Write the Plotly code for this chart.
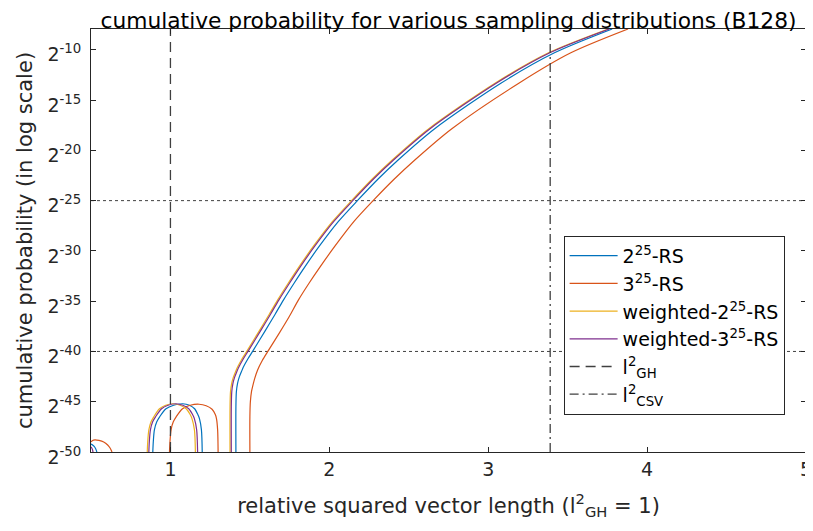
import plotly.graph_objects as go

# ---- data (log2 of cumulative probability vs relative squared length) ----
# 2^25-RS (blue)
blue_left_x = [0.5, 0.51, 0.52, 0.53, 0.537]
blue_left_y = [-49.2, -49.3, -49.45, -49.7, -50]
blue_arc_x = [0.889, 0.892, 0.899, 0.914, 0.932, 0.972, 1.02, 1.077, 1.12, 1.152, 1.173, 1.183, 1.195, 1.200]
blue_arc_y = [-50, -49.0, -47.8, -47.0, -46.5, -45.7, -45.35, -45.2, -45.35, -45.7, -46.3, -46.7, -47.8, -50]
blue_x = [1.412, 1.412, 1.415, 1.422, 1.432, 1.447, 1.459, 1.487, 1.522, 1.596, 1.658, 1.711, 1.777, 1.847,
          1.937, 2.056, 2.181, 2.307, 2.433, 2.663, 3.082, 3.417, 3.78]
blue_y = [-50, -45.5, -44.0, -43.2, -42.6, -42.0, -41.55, -40.75, -39.87, -37.95, -36.32, -34.89, -33.24, -31.56,
          -29.53, -27.09, -24.93, -22.85, -20.96, -17.85, -13.3, -10.3, -7.93]

# 3^25-RS (orange)
orange_left_x = [0.5, 0.51, 0.525, 0.55, 0.58, 0.605, 0.62, 0.628, 0.632]
orange_left_y = [-49.0, -48.85, -48.8, -48.85, -49.0, -49.3, -49.6, -49.85, -50]
orange_arc_x = [0.994, 0.997, 1.004, 1.018, 1.036, 1.076, 1.125, 1.18, 1.225, 1.262, 1.283, 1.29, 1.297, 1.30]
orange_arc_y = [-50, -49.0, -47.8, -47.0, -46.5, -45.7, -45.35, -45.25, -45.4, -45.75, -46.3, -46.7, -47.8, -50]
orange_x = [1.500, 1.500, 1.503, 1.510, 1.517, 1.530, 1.548, 1.578, 1.611, 1.684, 1.747, 1.805, 1.871, 1.943,
            2.035, 2.154, 2.280, 2.409, 2.538, 2.771, 3.195, 3.520, 3.880]
orange_y = [-50, -46.5, -45.0, -44.0, -43.5, -42.7, -41.86, -40.9, -40.04, -38.2, -36.55, -34.89, -33.24, -31.56,
            -29.53, -27.09, -24.93, -22.85, -20.96, -17.85, -13.3, -10.3, -7.93]

# weighted-2^25-RS (yellow)
yellow_arc_x = [0.854, 0.857, 0.864, 0.878, 0.895, 0.931, 0.97, 1.015, 1.06, 1.099, 1.125, 1.136, 1.151, 1.157]
yellow_arc_y = [-50, -49.0, -47.8, -47.0, -46.5, -45.7, -45.35, -45.2, -45.35, -45.7, -46.3, -46.7, -47.8, -50]
yellow_x = [1.375, 1.375, 1.378, 1.385, 1.395, 1.410, 1.4225, 1.450, 1.485, 1.559, 1.621, 1.674, 1.740, 1.810,
            1.900, 2.019, 2.144, 2.270, 2.396, 2.626, 3.045, 3.380, 3.756]
yellow_y = [-50, -45.5, -44.0, -43.2, -42.6, -42.0, -41.55, -40.75, -39.87, -37.95, -36.32, -34.89, -33.24, -31.56,
            -29.53, -27.09, -24.93, -22.85, -20.96, -17.85, -13.3, -10.3, -7.93]

# weighted-3^25-RS (purple)
purple_left_x = [0.5, 0.505, 0.51, 0.5125]
purple_left_y = [-49.5, -49.6, -49.8, -50]
purple_arc_x = [0.864, 0.867, 0.874, 0.888, 0.906, 0.944, 0.985, 1.035, 1.078, 1.115, 1.14, 1.151, 1.165, 1.171]
purple_arc_y = [-50, -49.0, -47.8, -47.0, -46.5, -45.7, -45.35, -45.2, -45.35, -45.7, -46.3, -46.7, -47.8, -50]
purple_x = [1.383, 1.383, 1.386, 1.393, 1.403, 1.418, 1.4305, 1.458, 1.493, 1.567, 1.629, 1.682, 1.748, 1.818,
            1.908, 2.027, 2.152, 2.278, 2.404, 2.634, 3.053, 3.388, 3.762]
purple_y = [-50, -45.5, -44.0, -43.2, -42.6, -42.0, -41.55, -40.75, -39.87, -37.95, -36.32, -34.89, -33.24, -31.56,
            -29.53, -27.09, -24.93, -22.85, -20.96, -17.85, -13.3, -10.3, -7.93]

# reference lengths
l_gh = 1.0
l_csv = 3.39
y_limits = [-50, -7.93]
x_limits = [0.5, 5]
hlines = [-25, -40]

x_ticks = [1, 2, 3, 4, 5]
y_ticks = [-10, -15, -20, -25, -30, -35, -40, -45, -50]
y_ticktext = ["2<sup>%d</sup>" % v for v in y_ticks]

FONT = "DejaVu Sans, sans-serif"
AX = "#262626"


def join(*segs):
    xs, ys = [], []
    for sx, sy in segs:
        if xs:
            xs.append(None)
            ys.append(None)
        xs += sx
        ys += sy
    return xs, ys


fig = go.Figure()

series = [
    ("2<sup>25</sup>-RS", "#0072BD", [(blue_left_x, blue_left_y), (blue_arc_x, blue_arc_y), (blue_x, blue_y)]),
    ("3<sup>25</sup>-RS", "#D95319", [(orange_left_x, orange_left_y), (orange_arc_x, orange_arc_y), (orange_x, orange_y)]),
    ("weighted-2<sup>25</sup>-RS", "#EDB120", [(yellow_arc_x, yellow_arc_y), (yellow_x, yellow_y)]),
    ("weighted-3<sup>25</sup>-RS", "#7E2F8E", [(purple_left_x, purple_left_y), (purple_arc_x, purple_arc_y), (purple_x, purple_y)]),
]
for name, col, segs in series:
    xs, ys = join(*segs)
    fig.add_trace(go.Scatter(x=xs, y=ys, mode="lines", name=name,
                             line=dict(color=col, width=1.2, shape="spline", smoothing=0.8),
                             connectgaps=False))

fig.add_trace(go.Scatter(x=[l_gh, l_gh], y=y_limits, mode="lines",
                         name="l<sup>2</sup><sub>GH</sub>",
                         line=dict(color="#404040", width=1.3, dash="10px,6px")))
fig.add_trace(go.Scatter(x=[l_csv, l_csv], y=y_limits, mode="lines",
                         name="l<sup>2</sup><sub>CSV</sub>",
                         line=dict(color="#404040", width=1.3, dash="9px,4px,2px,4px")))

for h in hlines:
    fig.add_shape(type="line", xref="paper", x0=0, x1=1, yref="y", y0=h, y1=h,
                  line=dict(color="#404040", width=1, dash="dot"), layer="below")

fig.update_layout(
    width=805, height=523,
    margin=dict(l=83, r=7, t=21, b=79, autoexpand=False),
    paper_bgcolor="white", plot_bgcolor="white",
    font=dict(family=FONT, color=AX, size=16),
    title=dict(text="cumulative probability for various sampling distributions (B128)",
               xref="paper", x=0.5, xanchor="center",
               yref="container", y=0.99, yanchor="top",
               font=dict(size=21.75, color="#000000")),
    showlegend=True,
    legend=dict(x=0.661, y=0.511, xanchor="left", yanchor="top",
                bgcolor="white", bordercolor=AX, borderwidth=1, itemwidth=48,
                font=dict(size=19, color="#000000"), tracegroupgap=0),
    xaxis=dict(range=x_limits, tickvals=x_ticks, ticks="inside", ticklen=5,
               tickcolor=AX, showline=True, linecolor=AX, linewidth=1, mirror="ticks",
               showgrid=False, zeroline=False, tickfont=dict(size=19), automargin=False,
               title=dict(text="relative squared vector length (l<sup>2</sup><sub>GH</sub> = 1)",
                          font=dict(size=21), standoff=19)),
    yaxis=dict(range=y_limits, tickvals=y_ticks, ticktext=y_ticktext, ticks="inside",
               ticklen=5, tickcolor=AX, showline=True, linecolor=AX, linewidth=1,
               mirror="ticks", showgrid=False, zeroline=False, tickfont=dict(size=19),
               ticklabelshift=5, ticklabelstandoff=5, automargin=False,
               title=dict(text="cumulative probability (in log scale)",
                          font=dict(size=21), standoff=9)),
)

fig.write_html("out.html")
